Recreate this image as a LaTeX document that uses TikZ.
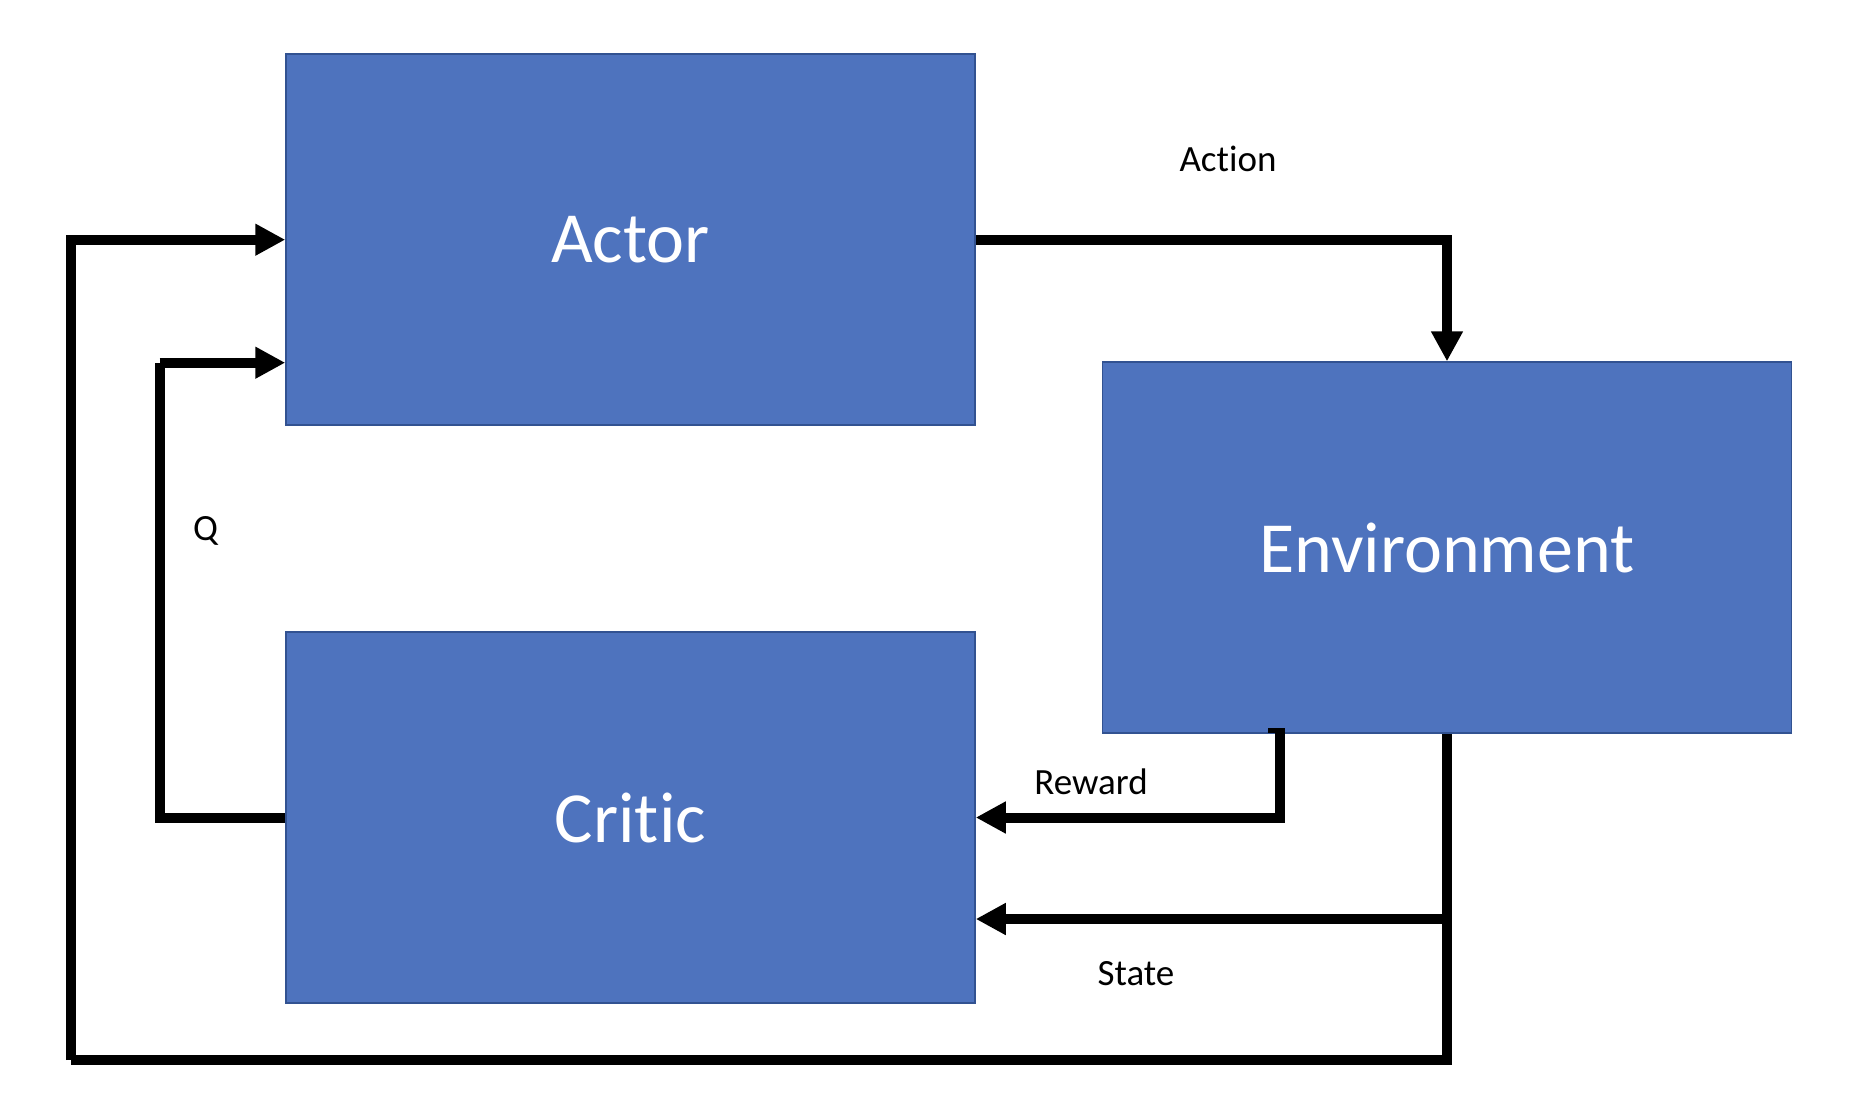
\documentclass[tikz,border=0pt]{standalone}
\usepackage{fontspec}
\setmainfont{Carlito}[Ligatures=NoCommon]
\usetikzlibrary{arrows.meta}
\definecolor{boxblue}{RGB}{78,115,190}
\definecolor{boxline}{RGB}{50,82,145}
\begin{document}
\begin{tikzpicture}[x=1pt,y=-1pt,
  block/.style={draw=boxline, line width=1.5pt, fill=boxblue, minimum width=689pt,
    minimum height=371pt, inner sep=0pt, text=white, font=\fontsize{72}{86}\selectfont},
  lbl/.style={anchor=base, inner sep=0pt, font=\fontsize{37}{44}\selectfont},
  wire/.style={line width=10pt, line cap=butt},
  conn/.style={wire, -{Triangle[length=30pt,width=30pt]}}]
\useasboundingbox (0,0) rectangle (1862,1100);
% boxes
\node[block] (actor) at (630.5,239.7) {Actor};
\node[block] (env) at (1447,547.6) {Environment};
\node[block] (critic) at (630.5,817.5) {Critic};
% labels
\node[lbl] (laction) at (1228,171) {Action};
\node[lbl] (lreward) at (1091,794) {Reward};
\node[lbl] (lstate) at (1136,985) {State};
\node[lbl] (lq) at (205.5,540) {Q};
% coordinates
\coordinate (rw) at (1280,728);
\coordinate (sj) at (1447,919);
\coordinate (sb) at (1447,1060);
\coordinate (sl) at (71,1060);
\coordinate (qc) at (159.5,362.7);
% action
\draw[conn] (actor.east) -| (env.north);
% reward
\draw[conn] (rw) |- (critic.east);
\fill (1268,728) rectangle (1284,733);
% state
\draw[wire] (env.south) -- (sb) -- (sl);
\draw[conn] (sj) -- (sj -| critic.east);
\draw[conn] (sl) |- (actor.west);
% Q
\draw[wire] (critic.west) -| (qc);
\draw[conn] (qc) -- (qc -| actor.west);
\end{tikzpicture}
\end{document}
